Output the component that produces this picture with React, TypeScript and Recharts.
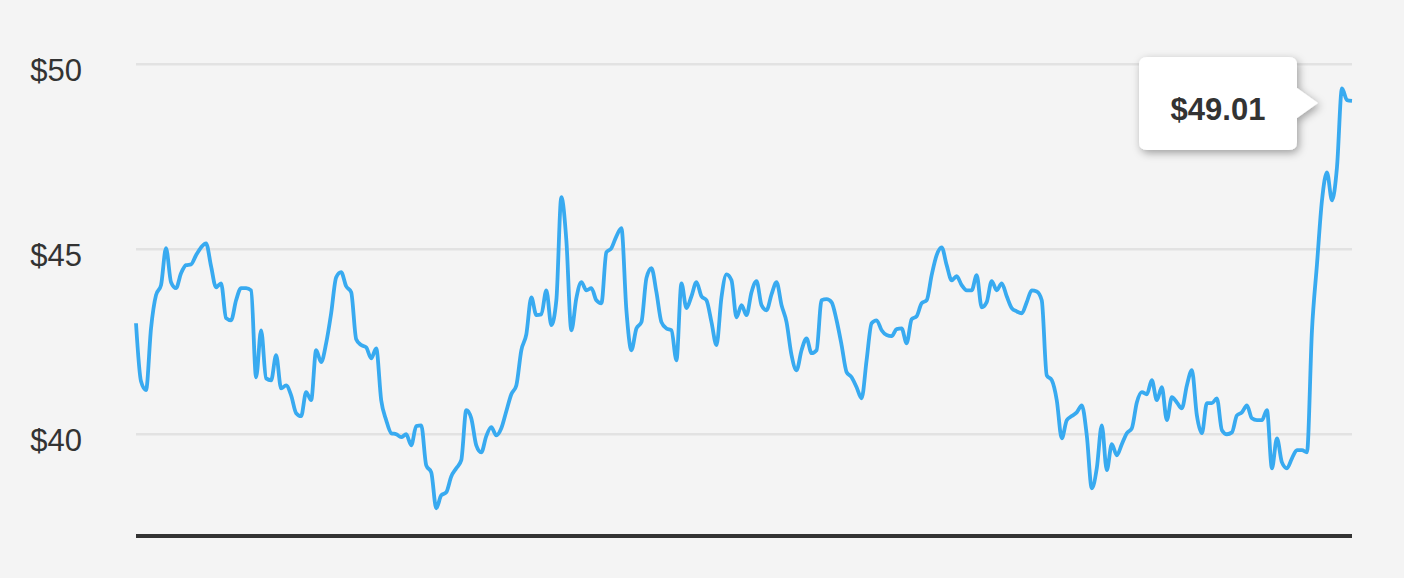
import { LineChart, Line, XAxis, YAxis, CartesianGrid, ReferenceDot } from "recharts";

// daily closing price
const prices = [
  43.0, 41.43, 41.19, 42.86, 43.76, 44.03, 45.03, 44.11, 43.95, 44.35,
  44.57, 44.59, 44.84, 45.05, 45.16, 44.54, 43.97, 44.08, 43.14, 43.08,
  43.62, 43.95, 43.95, 43.89, 41.54, 42.81, 41.51, 41.46, 42.14, 41.24,
  41.32, 41.05, 40.57, 40.49, 41.14, 40.92, 42.27, 41.95, 42.46, 43.27,
  44.24, 44.38, 44.0, 43.84, 42.57, 42.41, 42.35, 42.05, 42.32, 40.92,
  40.38, 40.03, 40.0, 39.92, 40.0, 39.7, 40.22, 40.24, 39.16, 38.97,
  38.0, 38.35, 38.43, 38.86, 39.08, 39.3, 40.65, 40.43, 39.7, 39.51,
  39.95, 40.19, 39.97, 40.16, 40.62, 41.08, 41.32, 42.27, 42.7, 43.7,
  43.22, 43.24, 43.89, 42.95, 43.62, 46.41, 45.24, 42.81, 43.68, 44.11,
  43.89, 43.95, 43.62, 43.54, 44.92, 45.03, 45.35, 45.57, 43.35, 42.27,
  42.86, 43.03, 44.22, 44.49, 43.84, 43.03, 42.86, 42.81, 42.0, 44.08,
  43.41, 43.73, 44.11, 43.73, 43.62, 43.03, 42.41, 43.7, 44.32, 44.16,
  43.16, 43.49, 43.22, 43.84, 44.14, 43.49, 43.35, 43.78, 44.11, 43.49,
  43.03, 42.14, 41.73, 42.27, 42.59, 42.19, 42.27, 43.62, 43.65, 43.57,
  43.08, 42.41, 41.68, 41.54, 41.27, 40.97, 42.0, 43.0, 43.08, 42.81,
  42.68, 42.65, 42.84, 42.86, 42.46, 43.11, 43.19, 43.54, 43.62, 44.3,
  44.84, 45.05, 44.57, 44.16, 44.27, 44.03, 43.89, 43.89, 44.3, 43.43,
  43.57, 44.14, 43.89, 44.08, 43.73, 43.41, 43.32, 43.27, 43.57, 43.89,
  43.86, 43.62, 41.59, 41.46, 40.92, 39.89, 40.38, 40.49, 40.59, 40.78,
  39.97, 38.54, 39.08, 40.24, 39.03, 39.73, 39.43, 39.73, 40.03, 40.16,
  40.86, 41.14, 41.08, 41.46, 40.92, 41.27, 40.38, 41.0, 40.86, 40.7,
  41.32, 41.73, 40.51, 40.03, 40.84, 40.84, 40.97, 40.11, 40.0, 40.05,
  40.51, 40.59, 40.78, 40.43, 40.38, 40.38, 40.65, 39.08, 39.89, 39.24,
  39.08, 39.35, 39.57, 39.57, 39.51, 42.81, 44.59, 46.32, 47.08, 46.32,
  47.22, 49.35, 49.03, 49.01,
];
const days = prices.map((_, i) => i + 1);
const yTicks = [40, 45, 50];

const data = days.map((d, i) => ({ day: d, price: prices[i] }));
const lastIdx = data.length - 1;

const font = "'Liberation Sans', Arial, Helvetica, sans-serif";

const PriceTick = (props: any) => {
  const { y, payload } = props;
  return (
    <text x={82} y={y} dy={17} textAnchor="end" fontSize={31} fill="#333" fontFamily={font}>
      ${payload.value}
    </text>
  );
};

const Callout = (props: any) => {
  const { cx, cy } = props;
  if (cx == null || cy == null) return null;
  const L = cx - 213, T = cy - 44, R = cx - 55, B = cy + 49, r = 8;
  const ay = cy + 2, ah = 15, tip = cx - 34;
  const d = `M${L + r},${T} H${R - r} Q${R},${T} ${R},${T + r} V${ay - ah} L${tip},${ay} L${R},${ay + ah} V${B - r} Q${R},${B} ${R - r},${B} H${L + r} Q${L},${B} ${L},${B - r} V${T + r} Q${L},${T} ${L + r},${T} Z`;
  return (
    <g>
      <defs>
        <filter id="calloutShadow" x="-30%" y="-30%" width="160%" height="170%">
          <feDropShadow dx="2" dy="3" stdDeviation="4" floodColor="#000" floodOpacity="0.35" />
        </filter>
      </defs>
      <path d={d} fill="#fff" filter="url(#calloutShadow)" />
      <text
        x={(L + R) / 2}
        y={cy + 19}
        textAnchor="middle"
        fontSize={31}
        fontWeight="bold"
        fill="#333"
        fontFamily={font}
      >
        ${prices[lastIdx].toFixed(2)}
      </text>
    </g>
  );
};

export default function App() {
  return (
    <div style={{ width: 1404, height: 578, background: "#f4f4f4" }}>
      <style>{"body{margin:0;background:#f4f4f4}"}</style>
      <LineChart width={1404} height={578} data={data} margin={{ top: 18, right: 52, left: 0, bottom: 0 }}>
        <CartesianGrid vertical={false} horizontalValues={yTicks} stroke="#e2e2e2" strokeWidth={2.5} />
        <XAxis
          dataKey="day"
          tick={false}
          tickLine={false}
          height={42}
          axisLine={{ stroke: "#333", strokeWidth: 4 }}
        />
        <YAxis
          type="number"
          domain={[37.25, 51.25]}
          ticks={yTicks}
          width={136}
          axisLine={false}
          tickLine={false}
          tick={<PriceTick />}
          allowDataOverflow
        />
        <Line
          type="monotone"
          dataKey="price"
          stroke="#38aaf0"
          strokeWidth={3.8}
          dot={false}
          activeDot={false}
          isAnimationActive={false}
        />
        <ReferenceDot x={days[lastIdx]} y={prices[lastIdx]} r={0} shape={Callout} />
      </LineChart>
    </div>
  );
}
